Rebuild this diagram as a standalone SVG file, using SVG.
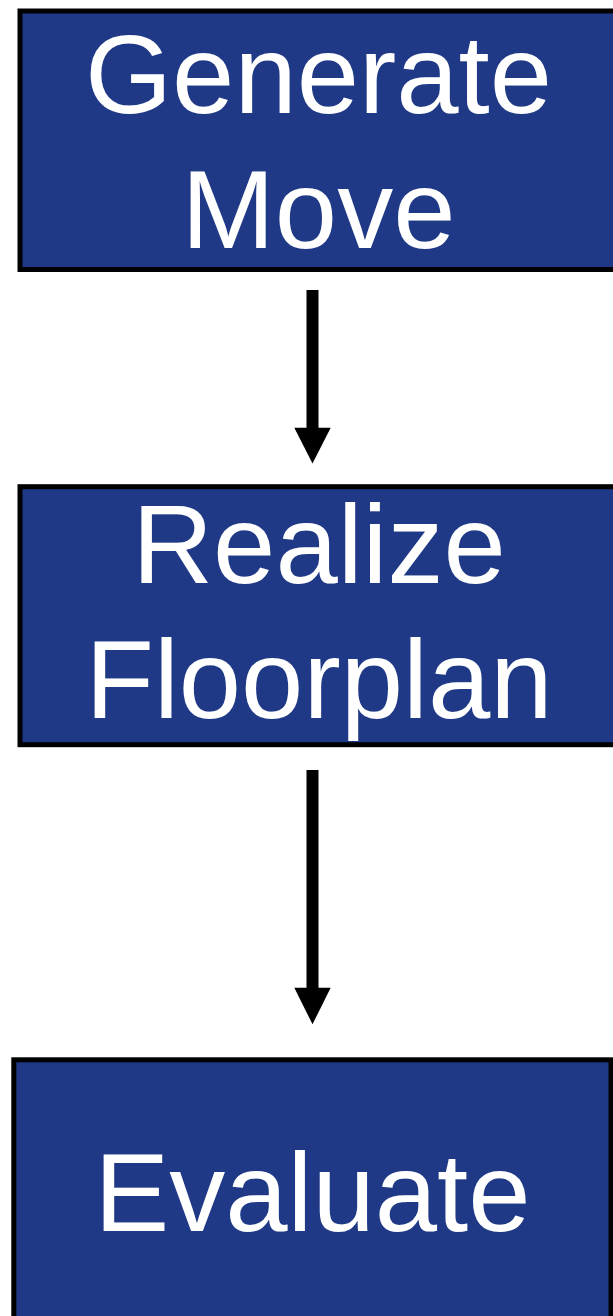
<svg xmlns="http://www.w3.org/2000/svg" width="613" height="1316" viewBox="0 0 613 1316">
<style>
.box{fill:#1F3986;stroke:#000;stroke-width:5}
.lbl{font-family:"Liberation Sans",Arial,sans-serif;font-size:112px;fill:#fff;text-anchor:middle}
.shaft{stroke:#000;stroke-width:12;fill:none}
.head{fill:#000}
</style>
<rect width="613" height="1316" fill="#fff"/>
<g id="generate-move">
<rect class="box" x="20" y="11" width="597" height="258.5"/>
<text class="lbl" x="318.5" y="113">Generate</text>
<text class="lbl" x="318.5" y="248">Move</text>
</g>
<g id="realize-floorplan">
<rect class="box" x="20" y="486.7" width="597" height="258"/>
<text class="lbl" x="319" y="583">Realize</text>
<text class="lbl" x="319" y="718">Floorplan</text>
</g>
<g id="evaluate">
<rect class="box" x="13.8" y="1059.8" width="597.2" height="270"/>
<text class="lbl" x="312.5" y="1231">Evaluate</text>
</g>
<g id="connectors">
<line class="shaft" x1="312.5" y1="290" x2="312.5" y2="430"/>
<polygon class="head" points="294.3,427.7 330.7,427.7 312.5,463.5"/>
<line class="shaft" x1="312.5" y1="770" x2="312.5" y2="990"/>
<polygon class="head" points="294.3,987.7 330.7,987.7 312.5,1024.3"/>
</g>
</svg>
